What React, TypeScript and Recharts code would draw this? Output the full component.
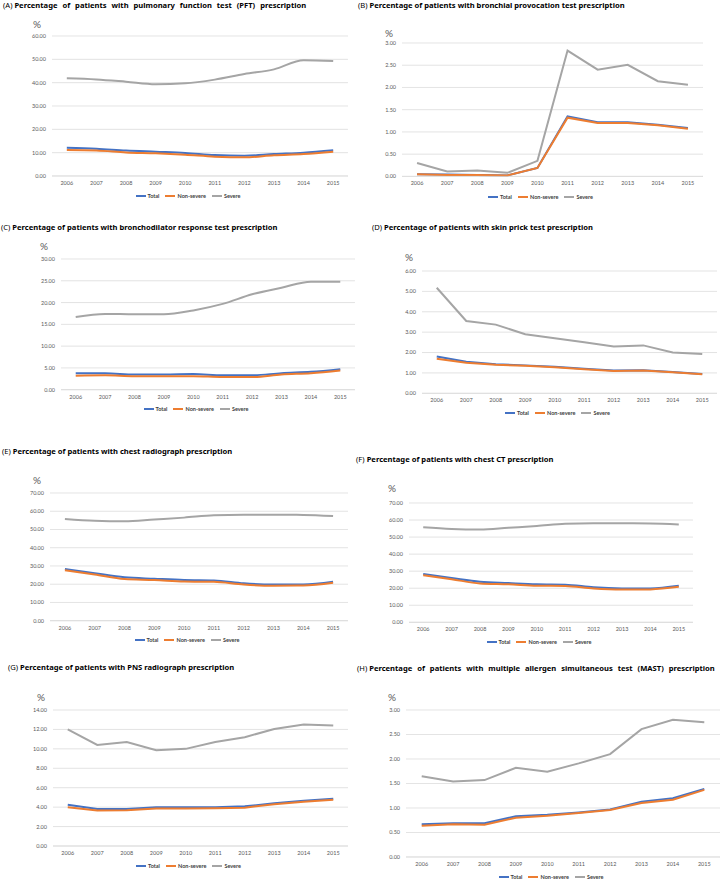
import React from 'react';
import { LineChart, Line, XAxis, YAxis, CartesianGrid, Legend } from 'recharts';

const years = ['2006', '2007', '2008', '2009', '2010', '2011', '2012', '2013', '2014', '2015'];
const seriesNames = ['Total', 'Non-severe', 'Severe'];

// (A) pulmonary function test
const pftTotal = [12.1, 11.7, 10.9, 10.4, 9.9, 9.0, 8.7, 9.4, 10.0, 11.0];
const pftNonSevere = [11.1, 10.9, 10.1, 9.7, 9.1, 8.3, 8.0, 8.9, 9.4, 10.4];
const pftSevere = [41.9, 41.4, 40.4, 39.3, 39.7, 41.3, 43.7, 45.7, 49.6, 49.3];

// (B) bronchial provocation test
const bptTotal = [0.05, 0.04, 0.03, 0.02, 0.19, 1.35, 1.22, 1.22, 1.16, 1.09];
const bptNonSevere = [0.05, 0.03, 0.03, 0.02, 0.19, 1.32, 1.2, 1.2, 1.15, 1.07];
const bptSevere = [0.3, 0.11, 0.13, 0.08, 0.35, 2.83, 2.4, 2.51, 2.14, 2.06];

// (C) bronchodilator response test
const bdrTotal = [3.75, 3.75, 3.5, 3.5, 3.6, 3.3, 3.3, 3.8, 4.1, 4.7];
const bdrNonSevere = [3.2, 3.3, 3.1, 3.1, 3.1, 2.9, 2.9, 3.5, 3.8, 4.4];
const bdrSevere = [16.7, 17.4, 17.3, 17.3, 18.2, 19.7, 21.9, 23.4, 24.8, 24.8];

// (D) skin prick test
const sptTotal = [1.8, 1.55, 1.43, 1.37, 1.3, 1.2, 1.12, 1.13, 1.05, 0.95];
const sptNonSevere = [1.7, 1.5, 1.4, 1.35, 1.28, 1.18, 1.1, 1.12, 1.03, 0.93];
const sptSevere = [5.18, 3.55, 3.37, 2.9, 2.7, 2.5, 2.3, 2.35, 2.0, 1.93];

// (E) chest radiograph
const cxrTotal = [28.3, 26.0, 23.8, 23.0, 22.3, 22.1, 20.5, 19.9, 19.9, 21.4];
const cxrNonSevere = [27.6, 25.3, 22.8, 22.3, 21.5, 21.3, 19.8, 19.2, 19.3, 20.8];
const cxrSevere = [55.8, 54.8, 54.5, 55.5, 56.5, 57.8, 58.1, 58.1, 58.0, 57.4];

// (F) chest CT
const ctTotal = [28.3, 26.0, 23.8, 23.0, 22.3, 22.1, 20.5, 19.9, 19.9, 21.4];
const ctNonSevere = [27.6, 25.3, 22.8, 22.3, 21.5, 21.3, 19.8, 19.2, 19.3, 20.8];
const ctSevere = [55.8, 54.8, 54.5, 55.5, 56.5, 57.8, 58.1, 58.1, 58.0, 57.4];

// (G) PNS radiograph
const pnsTotal = [4.25, 3.8, 3.8, 3.98, 3.98, 4.0, 4.08, 4.4, 4.67, 4.87];
const pnsNonSevere = [4.0, 3.65, 3.67, 3.85, 3.85, 3.88, 3.95, 4.3, 4.55, 4.75];
const pnsSevere = [12.0, 10.4, 10.7, 9.85, 10.0, 10.7, 11.2, 12.05, 12.5, 12.4];

// (H) MAST
const mastTotal = [0.67, 0.69, 0.69, 0.83, 0.86, 0.91, 0.97, 1.13, 1.2, 1.39];
const mastNonSevere = [0.64, 0.67, 0.66, 0.8, 0.84, 0.9, 0.96, 1.1, 1.17, 1.37];
const mastSevere = [1.65, 1.54, 1.57, 1.82, 1.74, 1.91, 2.1, 2.61, 2.8, 2.75];

const yTicksA = [0, 10, 20, 30, 40, 50, 60];
const yTicksB = [0, 0.5, 1, 1.5, 2, 2.5, 3];
const yTicksC = [0, 5, 10, 15, 20, 25, 30];
const yTicksD = [0, 1, 2, 3, 4, 5, 6];
const yTicksE = [0, 10, 20, 30, 40, 50, 60, 70];
const yTicksF = [0, 10, 20, 30, 40, 50, 60, 70];
const yTicksG = [0, 2, 4, 6, 8, 10, 12, 14];
const yTicksH = [0, 0.5, 1, 1.5, 2, 2.5, 3];

const COLORS = ['#4472C4', '#ED7D31', '#A5A5A5'];
const FONT = 'Lato, "Noto Sans", sans-serif';

const build = (t: number[], n: number[], s: number[]) =>
  years.map((y, i) => ({ year: y, total: t[i], nonSevere: n[i], severe: s[i] }));

const panels = [
  { letter: '(A)', title: 'Percentage of patients with pulmonary function test (PFT) prescription', ws: 3, tx: 3, ty: 5, px: 33, py: 24, plotLeft: 52, plotRight: 348, plotTop: 35.7, plotBottom: 175.7, legendY: 196, ticks: yTicksA, curve: 'monotone', data: build(pftTotal, pftNonSevere, pftSevere) },
  { letter: '(B)', title: 'Percentage of patients with bronchial provocation test prescription', ws: 0, tx: 358, ty: 5, px: 385, py: 33, plotLeft: 402, plotRight: 703, plotTop: 43.3, plotBottom: 176.7, legendY: 197, ticks: yTicksB, curve: 'linear', data: build(bptTotal, bptNonSevere, bptSevere) },
  { letter: '(C)', title: 'Percentage of patients with bronchodilator response test prescription', ws: 0, tx: 1, ty: 226.7, px: 40, py: 246, plotLeft: 61, plotRight: 355, plotTop: 259.3, plotBottom: 390, legendY: 409, ticks: yTicksC, curve: 'monotone', data: build(bdrTotal, bdrNonSevere, bdrSevere) },
  { letter: '(D)', title: 'Percentage of patients with skin prick test prescription', ws: 0, tx: 372, ty: 226.7, px: 405, py: 257, plotLeft: 422, plotRight: 717, plotTop: 271, plotBottom: 393.3, legendY: 413, ticks: yTicksD, curve: 'linear', data: build(sptTotal, sptNonSevere, sptSevere) },
  { letter: '(E)', title: 'Percentage of patients with chest radiograph prescription', ws: 0, tx: 2, ty: 451, px: 33, py: 480, plotLeft: 50, plotRight: 348, plotTop: 493.3, plotBottom: 621, legendY: 640, ticks: yTicksE, curve: 'monotone', data: build(cxrTotal, cxrNonSevere, cxrSevere) },
  { letter: '(F)', title: 'Percentage of patients with chest CT prescription', ws: 0, tx: 356, ty: 459, px: 388, py: 488, plotLeft: 409, plotRight: 693, plotTop: 502.7, plotBottom: 622, legendY: 642, ticks: yTicksF, curve: 'monotone', data: build(ctTotal, ctNonSevere, ctSevere) },
  { letter: '(G)', title: 'Percentage of patients with PNS radiograph prescription', ws: 0, tx: 8, ty: 667, px: 37, py: 697, plotLeft: 53, plotRight: 348, plotTop: 710, plotBottom: 846, legendY: 866, ticks: yTicksG, curve: 'linear', data: build(pnsTotal, pnsNonSevere, pnsSevere) },
  { letter: '(H)', title: 'Percentage of patients with multiple allergen simultaneous test (MAST) prescription', ws: 3, tx: 357, ty: 668, px: 388, py: 697, plotLeft: 406, plotRight: 720, plotTop: 710.3, plotBottom: 857.3, legendY: 877, ticks: yTicksH, curve: 'linear', data: build(mastTotal, mastNonSevere, mastSevere) },
];

const YW = 45;
const MT = 6;
const MR = 1;
const LEG_H = 10;

function LegendContent({ payload }: any) {
  const items = [...(payload || [])].sort(
    (a: any, b: any) => seriesNames.indexOf(a.value) - seriesNames.indexOf(b.value)
  );
  return (
    <div style={{ display: 'flex', justifyContent: 'center', alignItems: 'center', height: LEG_H, paddingLeft: 27, fontFamily: FONT, fontSize: 5.5, fontWeight: 700, color: '#404040' }}>
      {items.map((it: any) => (
        <div key={it.value} style={{ display: 'flex', alignItems: 'center', marginRight: 6 }}>
          <svg width={10} height={4} style={{ marginRight: 2 }}>
            <line x1={0} y1={2} x2={10} y2={2} stroke={it.color} strokeWidth={2} />
          </svg>
          <span>{it.value}</span>
        </div>
      ))}
    </div>
  );
}

function Panel({ p }: { p: (typeof panels)[number] }) {
  const left = p.plotLeft - YW;
  const top = p.plotTop - MT;
  const width = p.plotRight + MR - left;
  const xAxisH = p.legendY - p.plotBottom - LEG_H / 2;
  const height = MT + (p.plotBottom - p.plotTop) + xAxisH + LEG_H;
  const yMax = p.ticks[p.ticks.length - 1];
  const halfBand = (p.plotRight - p.plotLeft) / years.length / 2;
  return (
    <>
      <div style={{ position: 'absolute', left: p.tx, top: Math.max(0, p.ty - 5), lineHeight: '10px', fontFamily: '"Noto Sans", sans-serif', fontSize: 7.6, color: '#000', whiteSpace: 'nowrap' }}>
        <span style={{ fontWeight: 400 }}>{p.letter}</span>{' '}
        <span style={{ fontWeight: 700, wordSpacing: p.ws }}>{p.title}</span>
      </div>
      <div style={{ position: 'absolute', left: p.px, top: p.py - 6, lineHeight: '12px', fontFamily: FONT, fontSize: 10, color: '#595959' }}>%</div>
      <div style={{ position: 'absolute', left, top }}>
        <LineChart width={width} height={height} data={p.data} margin={{ top: MT, right: MR, left: 0, bottom: 0 }}>
          <CartesianGrid vertical={false} stroke="#D9D9D9" strokeWidth={0.75} />
          <XAxis dataKey="year" height={xAxisH} padding={{ left: halfBand, right: halfBand }} tickLine={false} tickSize={0} tickMargin={5} axisLine={{ stroke: '#D9D9D9', strokeWidth: 0.75 }} tick={{ fontSize: 5.5, fill: '#595959', fontFamily: FONT }} interval={0} />
          <YAxis width={YW} domain={[0, yMax]} ticks={p.ticks} axisLine={false} tickLine={false} tickSize={0} tickMargin={6} tick={{ fontSize: 5.5, fill: '#595959', fontFamily: FONT }} tickFormatter={(v: number) => v.toFixed(2)} interval={0} />
          <Legend verticalAlign="bottom" align="center" height={LEG_H} content={<LegendContent />} />
          <Line type={p.curve as any} dataKey="total" name={seriesNames[0]} stroke={COLORS[0]} strokeWidth={2} dot={false} activeDot={false} isAnimationActive={false} />
          <Line type={p.curve as any} dataKey="nonSevere" name={seriesNames[1]} stroke={COLORS[1]} strokeWidth={2} dot={false} activeDot={false} isAnimationActive={false} />
          <Line type={p.curve as any} dataKey="severe" name={seriesNames[2]} stroke={COLORS[2]} strokeWidth={2} dot={false} activeDot={false} isAnimationActive={false} />
        </LineChart>
      </div>
    </>
  );
}

export default function App() {
  return (
    <div style={{ position: 'absolute', left: 0, top: 0, width: 721, height: 879, background: '#fff', overflow: 'hidden' }}>
      {panels.map((p) => (
        <Panel key={p.letter} p={p} />
      ))}
    </div>
  );
}
